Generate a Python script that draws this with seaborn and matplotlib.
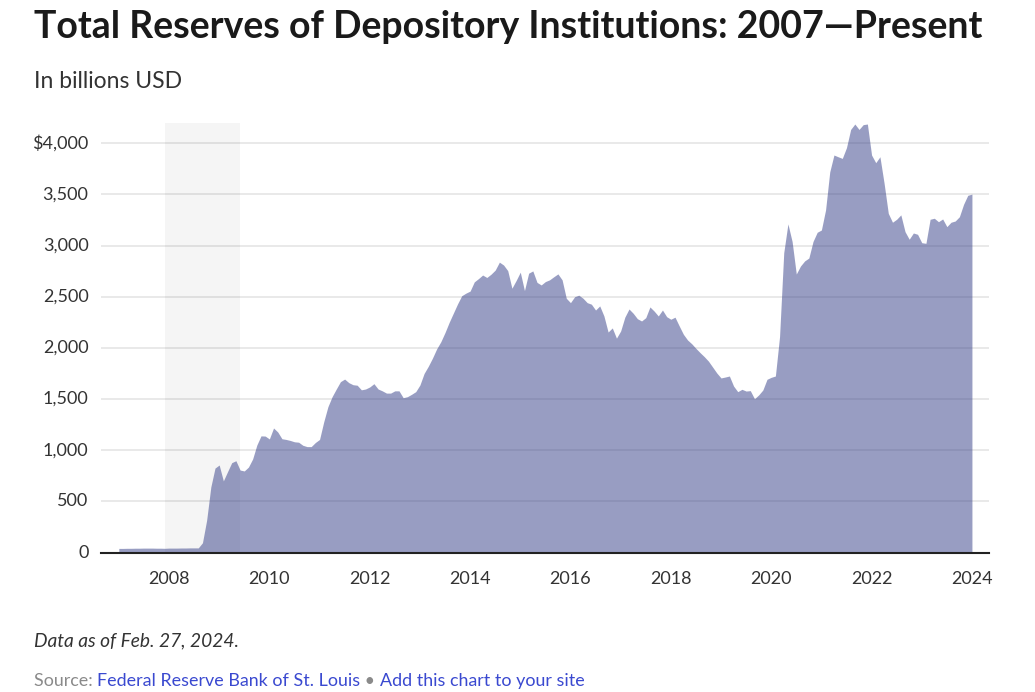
import matplotlib
matplotlib.use("Agg")
import matplotlib.pyplot as plt
import numpy as np
import pandas as pd
import seaborn as sns

# monthly values, billions USD
reserves_2007 = [40, 40, 41, 41, 42, 42, 43, 43, 43, 42, 42, 41]
reserves_2008 = [43, 43, 43, 44, 44, 45, 45, 45, 95, 315, 640, 825]
reserves_2009 = [855, 700, 790, 878, 897, 806, 797, 835, 914, 1050, 1140, 1138]
reserves_2010 = [1110, 1217, 1178, 1112, 1105, 1095, 1082, 1078, 1048, 1035, 1035, 1075]
reserves_2011 = [1105, 1277, 1425, 1523, 1598, 1670, 1695, 1660, 1640, 1635, 1590, 1598]
reserves_2012 = [1618, 1650, 1598, 1580, 1558, 1558, 1580, 1580, 1513, 1523, 1546, 1572]
reserves_2013 = [1637, 1750, 1820, 1900, 1990, 2060, 2150, 2250, 2340, 2430, 2510, 2535]
reserves_2014 = [2555, 2645, 2677, 2712, 2688, 2720, 2760, 2838, 2810, 2755, 2583, 2658]
reserves_2015 = [2740, 2560, 2730, 2752, 2640, 2615, 2648, 2665, 2695, 2723, 2665, 2485]
reserves_2016 = [2442, 2500, 2515, 2485, 2442, 2427, 2370, 2410, 2312, 2155, 2195, 2095]
reserves_2017 = [2165, 2300, 2380, 2338, 2285, 2263, 2295, 2400, 2360, 2312, 2370, 2305]
reserves_2018 = [2280, 2300, 2215, 2133, 2077, 2040, 1995, 1953, 1914, 1870, 1812, 1754]
reserves_2019 = [1706, 1715, 1725, 1627, 1572, 1595, 1578, 1582, 1503, 1540, 1588, 1693]
reserves_2020 = [1712, 1725, 2110, 2930, 3212, 3040, 2722, 2800, 2850, 2878, 3040, 3130]
reserves_2021 = [3152, 3348, 3720, 3885, 3868, 3852, 3957, 4135, 4188, 4135, 4182, 4188]
reserves_2022 = [3885, 3810, 3868, 3608, 3315, 3228, 3257, 3300, 3136, 3062, 3123, 3110]
reserves_2023 = [3028, 3022, 3257, 3267, 3233, 3260, 3185, 3228, 3240, 3282, 3403, 3491]
reserves_2024 = [3503]

year_ticks = [2008, 2010, 2012, 2014, 2016, 2018, 2020, 2022, 2024]
value_ticks = [0, 500, 1000, 1500, 2000, 2500, 3000, 3500, 4000]
value_labels = ["0", "500", "1,000", "1,500", "2,000", "2,500", "3,000", "3,500", "$4,000"]
recession = [2007.92, 2009.42]

W, H = 1035, 692


def main():
    sns.set_theme(style="white")
    plt.rcParams["font.family"] = ["Lato", "DejaVu Sans"]

    reserves = (reserves_2007 + reserves_2008 + reserves_2009 + reserves_2010
                + reserves_2011 + reserves_2012 + reserves_2013 + reserves_2014
                + reserves_2015 + reserves_2016 + reserves_2017 + reserves_2018
                + reserves_2019 + reserves_2020 + reserves_2021 + reserves_2022
                + reserves_2023 + reserves_2024)
    df = pd.DataFrame({"date": 2007 + np.arange(len(reserves)) / 12, "reserves": reserves})

    fig = plt.figure(figsize=(W / 100, H / 100), dpi=100)
    ax = fig.add_axes([101 / W, 1 - 552.5 / H, 888 / W, 429.5 / H])

    sns.lineplot(data=df, x="date", y="reserves", ax=ax, linewidth=0, color="#333D87")
    ax.fill_between(df["date"], df["reserves"], color="#333D87", alpha=0.5, linewidth=0, zorder=3)
    ax.axvspan(recession[0], recession[1], color="black", alpha=0.04, linewidth=0, zorder=2)

    ax.set_xlim(2006.645, 2024.34)
    ax.set_ylim(0, 4198)
    ax.set_xticks(year_ticks, [str(y) for y in year_ticks])
    ax.set_yticks(value_ticks, value_labels)
    ax.set_xlabel("")
    ax.set_ylabel("")
    ax.grid(axis="y", color="#E7E7E7", linewidth=1.3, zorder=1)
    ax.set_axisbelow(True)
    ax.tick_params(axis="both", length=0, labelsize=13, labelcolor="#333333")
    ax.tick_params(axis="x", pad=13)
    ax.tick_params(axis="y", pad=9)
    for label in ax.get_yticklabels():
        label.set_verticalalignment("center")
    sns.despine(ax=ax, left=True)
    ax.spines["bottom"].set_color("#222222")
    ax.spines["bottom"].set_linewidth(1.5)
    ax.spines["bottom"].set_zorder(5)

    fig.text(34 / W, 1 - 26.5 / H, "Total Reserves of Depository Institutions: 2007\u2014Present",
             fontsize=27, fontweight="bold", color="#1A1A1A", va="center")
    fig.text(34 / W, 1 - 82 / H, "In billions USD", fontsize=16.5, color="#333333", va="center")
    fig.text(34 / W, 1 - 641 / H, "Data as of Feb. 27, 2024.", fontsize=13.8, style="italic",
             color="#333333", va="center")

    # source line, pieces placed one after another
    x = 34
    renderer = fig.canvas.get_renderer()
    pieces = [("Source: ", "#8A8A8A"), ("Federal Reserve Bank of St. Louis", "#3A49D0"),
              (" \u2022 ", "#8A8A8A"), ("Add this chart to your site", "#3A49D0")]
    for label, col in pieces:
        t = fig.text(x / W, 1 - 681 / H, label.replace(" ", "\u00a0"), fontsize=12.85, color=col, va="center")
        x = t.get_window_extent(renderer).x1

    fig.savefig("out.png", dpi=100)


if __name__ == "__main__":
    main()
